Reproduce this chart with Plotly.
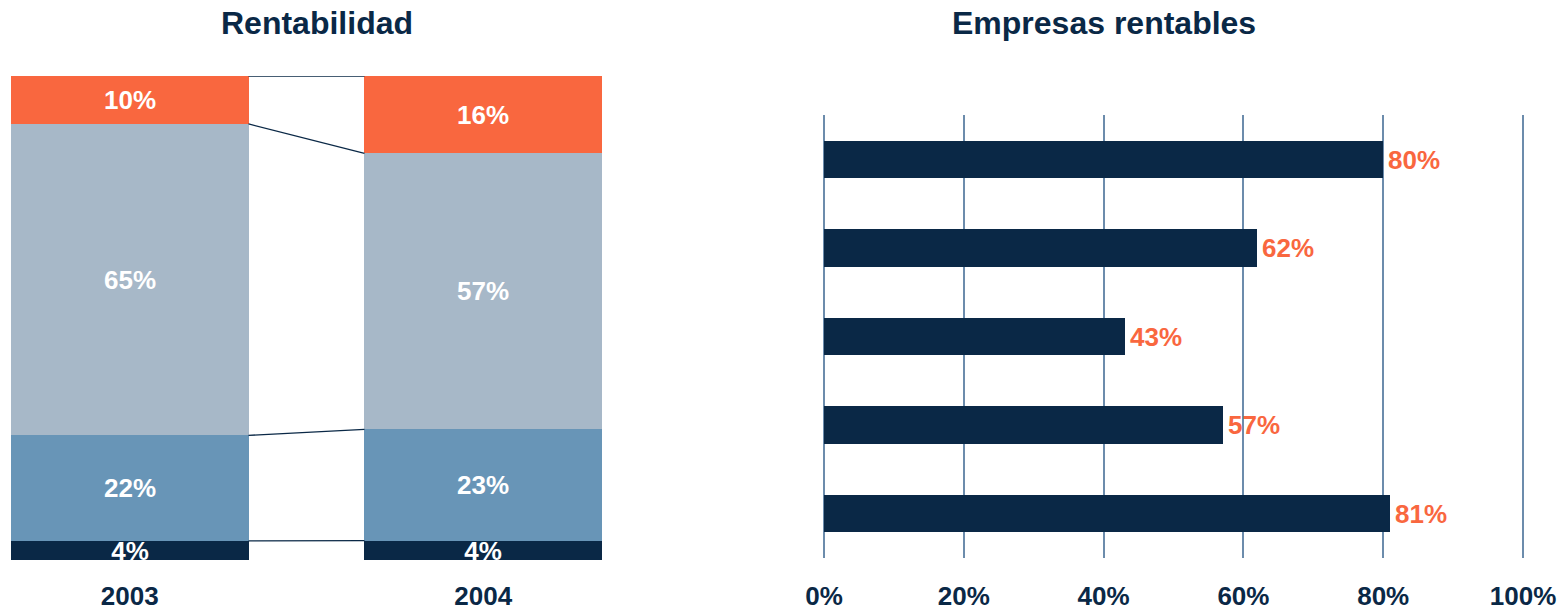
import plotly.graph_objects as go

# ---------------- data ----------------
years = ["2003", "2004"]
seg_names = ["Segmento 1", "Segmento 2", "Segmento 3", "Segmento 4"]  # bottom -> top
seg_values = {
    "Segmento 1": [4, 4],
    "Segmento 2": [22, 23],
    "Segmento 3": [65, 57],
    "Segmento 4": [10, 16],
}

empresas_cats = ["A", "B", "C", "D", "E"]
empresas_vals = [80, 62, 43, 57, 81]
pct_ticks = [0, 20, 40, 60, 80, 100]
pct_tick_labels = ["0%", "20%", "40%", "60%", "80%", "100%"]

# ---------------- style ----------------
NAVY = "#0A2846"
STEEL = "#6895B7"
GRAY = "#A7B8C8"
ORANGE = "#F9673F"
GRID = "#6C8CAC"
seg_colors = [NAVY, STEEL, GRAY, ORANGE]
FONT = "Liberation Sans, Arial, sans-serif"
W, H = 1567, 610
BAR_W = 0.672

def px_x(a, b):
    return [a / W, b / W]

def px_y(top, bottom):
    return [(H - bottom) / H, (H - top) / H]

fig = go.Figure()

# normalized totals (100% stacked)
totals = [sum(seg_values[s][i] for s in seg_names) for i in range(len(years))]
xpos = list(range(len(years)))

for name, col in zip(seg_names, seg_colors):
    vals = seg_values[name]
    norm = [v / t * 100 for v, t in zip(vals, totals)]
    fig.add_trace(go.Bar(
        x=xpos, y=norm, width=BAR_W, name=name,
        marker=dict(color=col, line=dict(width=0)),
        text=[f"{v}%" for v in vals],
        textposition="inside", insidetextanchor="middle",
        textangle=0, constraintext="none", cliponaxis=True,
        textfont=dict(family=FONT, size=26, color="white", weight="bold"),
        xaxis="x", yaxis="y", showlegend=False, hoverinfo="skip",
    ))

# connector lines between the stacks
cum = [[0.0] * len(years)]
for name in seg_names:
    prev = cum[-1]
    cum.append([p + v / t * 100 for p, v, t in zip(prev, seg_values[name], totals)])
for level in cum[1:]:
    fig.add_trace(go.Scatter(
        x=[xpos[0] + BAR_W / 2, xpos[1] - BAR_W / 2], y=level,
        mode="lines", line=dict(color=NAVY, width=1.3),
        xaxis="x", yaxis="y", showlegend=False, hoverinfo="skip",
    ))

# right chart
fig.add_trace(go.Bar(
    x=empresas_vals, y=empresas_cats, orientation="h", width=0.42,
    marker=dict(color=NAVY, line=dict(width=0)),
    text=[f"\u200a{v}%" for v in empresas_vals], textposition="outside",
    cliponaxis=False,
    textfont=dict(family=FONT, size=26, color=ORANGE, weight="bold"),
    xaxis="x2", yaxis="y2", showlegend=False, hoverinfo="skip",
))

tickfont = dict(family=FONT, size=26, color=NAVY, weight="bold")

# small padding so that the 0% and 100% grid lines are drawn
PAD = 0.3
X0_PX, X100_PX = 824, 1523
px_per_unit = (X100_PX - X0_PX) / 100

fig.update_layout(
    width=W, height=H,
    margin=dict(l=0, r=0, t=0, b=0, autoexpand=False),
    paper_bgcolor="white", plot_bgcolor="white",
    barmode="stack", bargap=0,
    xaxis=dict(domain=px_x(11, 602), range=[-BAR_W / 2, 1 + BAR_W / 2],
               tickvals=xpos, ticktext=years, tickfont=tickfont,
               ticks="outside", ticklen=13, tickcolor="rgba(0,0,0,0)",
               automargin=False,
               showgrid=False, zeroline=False, showline=False, fixedrange=True),
    yaxis=dict(domain=px_y(76, 560), range=[0, 100], visible=False,
               automargin=False,
               showgrid=False, zeroline=False, fixedrange=True),
    xaxis2=dict(domain=px_x(X0_PX - PAD * px_per_unit, X100_PX + PAD * px_per_unit),
                range=[-PAD, 100 + PAD], anchor="y2",
                tickvals=pct_ticks, ticktext=pct_tick_labels, tickfont=tickfont,
                ticks="outside", ticklen=15, tickcolor="rgba(0,0,0,0)",
                automargin=False,
                showgrid=True, gridcolor=GRID, gridwidth=1.5,
                zeroline=False, showline=False, fixedrange=True),
    yaxis2=dict(domain=px_y(115, 558), range=[4.5, -0.5], anchor="x2",
                type="category", categoryorder="array", categoryarray=empresas_cats,
                automargin=False,
                showticklabels=False, showgrid=False, zeroline=False,
                showline=False, ticks="", fixedrange=True),
    annotations=[
        dict(text="Rentabilidad", x=316.5 / W, y=1 - 23 / H, xref="paper", yref="paper",
             xanchor="center", yanchor="middle", showarrow=False,
             font=dict(family=FONT, size=32, color=NAVY, weight="bold")),
        dict(text="Empresas rentables", x=1104 / W, y=1 - 23 / H, xref="paper", yref="paper",
             xanchor="center", yanchor="middle", showarrow=False,
             font=dict(family=FONT, size=32, color=NAVY, weight="bold")),
    ],
)

fig.write_html("out.html", config={"displayModeBar": False})
